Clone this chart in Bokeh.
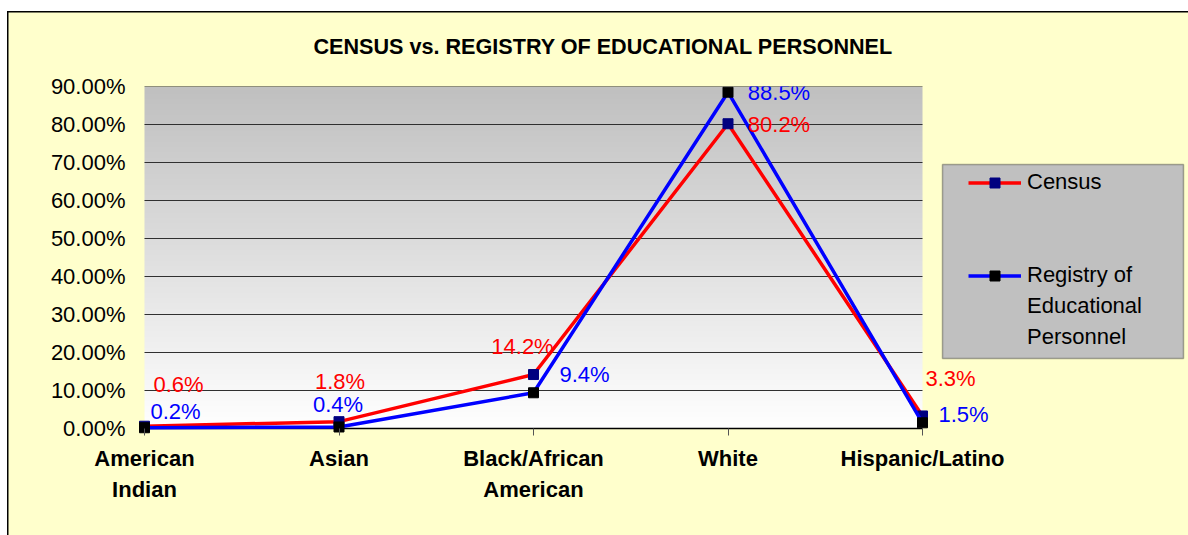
import numpy as np
from bokeh.plotting import figure
from bokeh.models import (ColumnDataSource, Range1d, FixedTicker, LabelSet, Legend,
                          LegendItem, BoxAnnotation)
from bokeh.core.properties import value
from bokeh.embed import file_html
from bokeh.resources import INLINE

# ---- data ----
categories = ["American\nIndian", "Asian", "Black/African\nAmerican", "White", "Hispanic/Latino"]
census = [0.6, 1.8, 14.2, 80.2, 3.3]
registry = [0.2, 0.4, 9.4, 88.5, 1.5]
y_ticks = [0, 10, 20, 30, 40, 50, 60, 70, 80, 90]
title_text = "CENSUS vs. REGISTRY OF EDUCATIONAL PERSONNEL"

# label placement offsets (px) for data labels
census_dx = [34, 1, -11, 51, 28]
census_dy = [42, 40, 28, -1, 37]
registry_dx = [31, -1, 51, 51, 41]
registry_dy = [16, 22, 18, 0, 8]

# ---- layout constants (px) ----
W, H = 1188, 535
AREA_L, AREA_T, AREA_B = 144, 86, 428   # plotting area (first category .. 0%)
PLOT_R = 922                             # last category
PAD_L, PAD_B = 12, 6                     # room so edge markers are not clipped
FRAME_L, FRAME_B = AREA_L - PAD_L, AREA_B + PAD_B
LEG_L, LEG_T, LEG_R, LEG_B = 942, 164, 1183, 358

FONT = "Liberation Sans"
YELLOW = "#FFFFCC"

xs = list(range(len(categories)))
x_last = len(categories) - 1
px_per_x = (PLOT_R - AREA_L) / x_last
px_per_y = (AREA_B - AREA_T) / (y_ticks[-1] - y_ticks[0])
x_start = -PAD_L / px_per_x
x_end = (W - AREA_L) / px_per_x
y_start = y_ticks[0] - PAD_B / px_per_y

p = figure(width=W, height=H, output_backend="svg", toolbar_location=None,
           x_range=Range1d(x_start, x_end), y_range=Range1d(y_start, y_ticks[-1]),
           min_border_left=FRAME_L, min_border_right=0, min_border_top=AREA_T,
           min_border_bottom=H - FRAME_B)
p.border_fill_alpha = 0
p.background_fill_alpha = 0
p.outline_line_color = None
p.styles = {
    "background": ("linear-gradient(#000,#000) 7px 11px / 1.5px 100% no-repeat, "
                   "linear-gradient(#000,#000) 7px 11px / 100% 1.5px no-repeat, "
                   f"linear-gradient({YELLOW},{YELLOW}) 7px 11px / 100% 100% no-repeat, #FFFFFF"),
}

# title
p.title.text = title_text
p.title.text_font = FONT
p.title.text_font_size = "21.6px"
p.title.text_font_style = "bold"
p.title.text_color = "black"
p.title.align = "left"
p.title.offset = 169 + PAD_L
p.title.standoff = 56

# plot-area gradient (grey at top -> white at bottom)
n = 256
t = np.linspace(0, 1, n)
g = (255 - (255 - 192) * t).astype(np.uint8)
img = np.zeros((n, 1), dtype=np.uint32)
view = img.view(dtype=np.uint8).reshape((n, 1, 4))
view[:, 0, 0] = g
view[:, 0, 1] = g
view[:, 0, 2] = g
view[:, 0, 3] = 255
p.image_rgba(image=[img], x=0, y=y_ticks[0], dw=x_last, dh=y_ticks[-1] - y_ticks[0],
             level="image")

# gridlines and category-axis line limited to the plotting area
grid_y = y_ticks[1:]
p.segment(x0=[0] * len(grid_y), x1=[x_last] * len(grid_y), y0=grid_y, y1=grid_y,
          line_color="#303030", line_width=1)
p.segment(x0=[0], x1=[x_last], y0=[y_ticks[0]], y1=[y_ticks[0]],
          line_color="black", line_width=1.5)
p.xgrid.grid_line_color = None
p.ygrid.grid_line_color = None

# axes
p.yaxis.ticker = FixedTicker(ticks=y_ticks)
p.yaxis.major_label_overrides = {v: f"{v:.2f}%" for v in y_ticks}
p.yaxis.axis_line_color = None
p.yaxis.major_tick_line_color = None
p.yaxis.minor_tick_line_color = None
p.yaxis.major_tick_out = 0
p.yaxis.major_label_standoff = 7
p.yaxis.major_label_text_font = FONT
p.yaxis.major_label_text_font_size = "22px"
p.yaxis.major_label_text_color = "black"

p.xaxis.ticker = FixedTicker(ticks=xs)
p.xaxis.major_label_overrides = {i: c for i, c in zip(xs, categories)}
p.xaxis.axis_line_color = None
p.xaxis.major_tick_line_color = "#555555"
p.xaxis.major_tick_out = 1
p.xaxis.major_tick_in = PAD_B
p.xaxis.minor_tick_line_color = None
p.xaxis.major_label_standoff = 10
p.xaxis.major_label_text_font = FONT
p.xaxis.major_label_text_font_size = "22px"
p.xaxis.major_label_text_font_style = "bold"
p.xaxis.major_label_text_color = "black"
p.xaxis.major_label_text_line_height = 1.27

# series
src_c = ColumnDataSource(dict(x=xs, y=census, text=[f"{v}%" for v in census],
                              dx=census_dx, dy=census_dy))
src_r = ColumnDataSource(dict(x=xs, y=registry, text=[f"{v}%" for v in registry],
                              dx=registry_dx, dy=registry_dy))

lc = p.line("x", "y", source=src_c, line_color="#FF0000", line_width=3.5)
mc = p.scatter("x", "y", source=src_c, marker="square", size=10, fill_color="#000080",
               line_color="#000080")
lr = p.line("x", "y", source=src_r, line_color="#0000FF", line_width=3.5)
mr = p.scatter("x", "y", source=src_r, marker="square", size=10, fill_color="black",
               line_color="black")

for src, col in ((src_c, "#FF0000"), (src_r, "#0000FF")):
    p.add_layout(LabelSet(x="x", y="y", text="text", source=src, x_offset="dx", y_offset="dy",
                          text_align="center", text_baseline="middle", text_color=col,
                          text_font=value(FONT), text_font_size="22px"))

# legend box
p.add_layout(BoxAnnotation(left=(LEG_L - AREA_L) / px_per_x, right=(LEG_R - AREA_L) / px_per_x,
                           top=(AREA_B - LEG_T) / px_per_y, bottom=(AREA_B - LEG_B) / px_per_y,
                           fill_color="#C0C0C0", fill_alpha=1, line_color="black",
                           line_width=1.5))
items = [
    LegendItem(label="Census", renderers=[lc, mc]),
    LegendItem(label=" ", renderers=[]),
    LegendItem(label=" ", renderers=[]),
    LegendItem(label="Registry of", renderers=[lr, mr]),
    LegendItem(label="Educational", renderers=[]),
    LegendItem(label="Personnel", renderers=[]),
]
item_h = 31
leg = Legend(items=items, location=(968 - FRAME_L, FRAME_B - (166.5 + item_h * len(items))),
             padding=0, spacing=0, margin=0, label_height=item_h, glyph_height=25,
             glyph_width=53, label_standoff=6, border_line_color=None,
             background_fill_alpha=0, label_text_font=FONT, label_text_font_size="22px",
             label_text_color="black")
p.add_layout(leg)

open("out.html", "w").write(file_html(p, INLINE))
